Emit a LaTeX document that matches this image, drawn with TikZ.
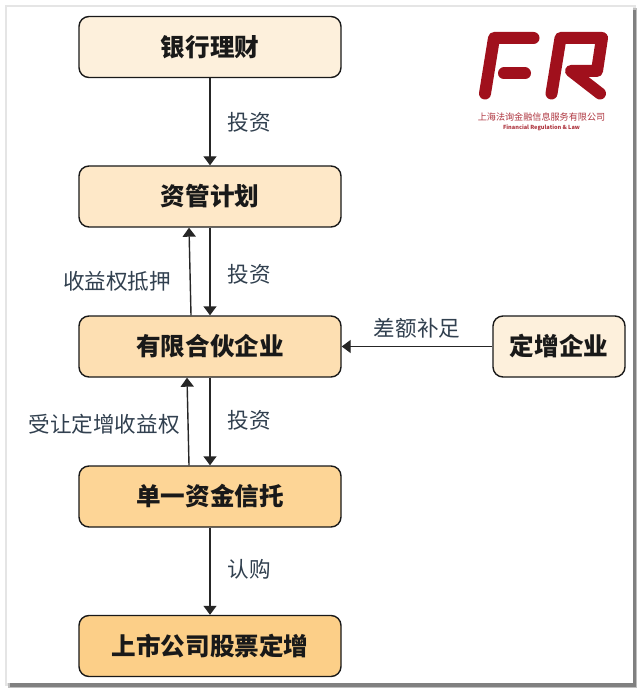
\documentclass[tikz,border=0pt]{standalone}
\usepackage{fontspec}
\setmainfont{Noto Sans CJK SC}
\usetikzlibrary{arrows.meta,calc}
\definecolor{cA}{HTML}{FDF0DC}
\definecolor{cB}{HTML}{FEE8C8}
\definecolor{cC}{HTML}{FDDFB2}
\definecolor{cD}{HTML}{FDD596}
\definecolor{cE}{HTML}{FCCF88}
\definecolor{lbl}{HTML}{31404F}
\definecolor{logored}{HTML}{A0101C}
\tikzset{
  box/.style={draw=black!90, line width=1.4pt, rounded corners=10pt, minimum width=262pt, minimum height=61pt, inner sep=0pt, font=\fontsize{24.6}{24.6}\selectfont\bfseries, text=black!90},
  lab/.style={inner sep=0pt, font=\fontsize{21.6}{21.6}\selectfont, text=lbl},
  link/.style={draw=black!85, line width=1.4pt, -{Triangle[length=9pt,width=13pt]}},
  logoline/.style={draw=logored, line width=12pt, line cap=round, line join=round}
}
\begin{document}
\begin{tikzpicture}[x=1pt,y=-1pt]
        \useasboundingbox (0,0) rectangle (640,692);
        % frame
        \fill [white] (0,0) rectangle (640,692);
        \fill [black!10] (5,5) rectangle (636,686);
        \fill [black!25] (8,8) rectangle (637,688);
        \fill [black!50] (10,10) rectangle (636,687);
        \fill [white] (7,7) rectangle (633,683);
        % boxes
        \node [box, fill=cA] (YH) at (210, 47) {银行理财};
        \node [box, fill=cB] (ZG) at (210, 196.5) {资管计划};
        \node [box, fill=cC] (HH) at (210, 346.5) {有限合伙企业};
        \node [box, fill=cD] (XT) at (210, 496.5) {单一资金信托};
        \node [box, fill=cE] (SS) at (210, 646) {上市公司股票定增};
        \node [box, fill=cA, minimum width=132pt] (DZ) at (559, 346.5) {定增企业};
        % labels
        \node [lab] (L1) at (249, 122.5) {投资};
        \node [lab] (L2) at (249, 274.5) {投资};
        \node [lab] (L3) at (249, 420.5) {投资};
        \node [lab] (L4) at (249, 569.5) {认购};
        \node [lab] (L5) at (117, 281.5) {收益权抵押};
        \node [lab] (L6) at (104, 424.5) {受让定增收益权};
        \node [lab] (L7) at (417, 328.5) {差额补足};
        % links
        \draw [link] (YH) -- (ZG);
        \draw [link] (ZG) -- (HH);
        \draw [link] (HH) -- (XT);
        \draw [link] (XT) -- (SS);
        \draw [link] (DZ) -- (HH);
        \draw [link] ([xshift=-19pt]HH.north) -- ([xshift=-21pt]ZG.south);
        \draw [link] ([xshift=-21pt]XT.north) -- ([xshift=-23pt]HH.south);
        % logo
        \draw [logoline] (533.5,38) -- (494,38) -- (485,93.5);
        \draw [logoline] (504,73.5) -- (525,73.5);
        \draw [logoline] (551.5,93.5) -- (560.5,38) -- (602,38) -- (597,71) -- (571,71) -- (600,93.5);
        \node [inner sep=0pt, text=logored!85, font=\fontsize{9.1}{9.1}\selectfont] (LG1) at (541.5,117) {上海法询金融信息服务有限公司};
        \node [inner sep=0pt, text=logored!85, font=\fontsize{5.6}{5.6}\selectfont\bfseries\itshape] (LG2) at (541.5,127.5) {Financial Regulation \& Law};
\end{tikzpicture}
\end{document}
